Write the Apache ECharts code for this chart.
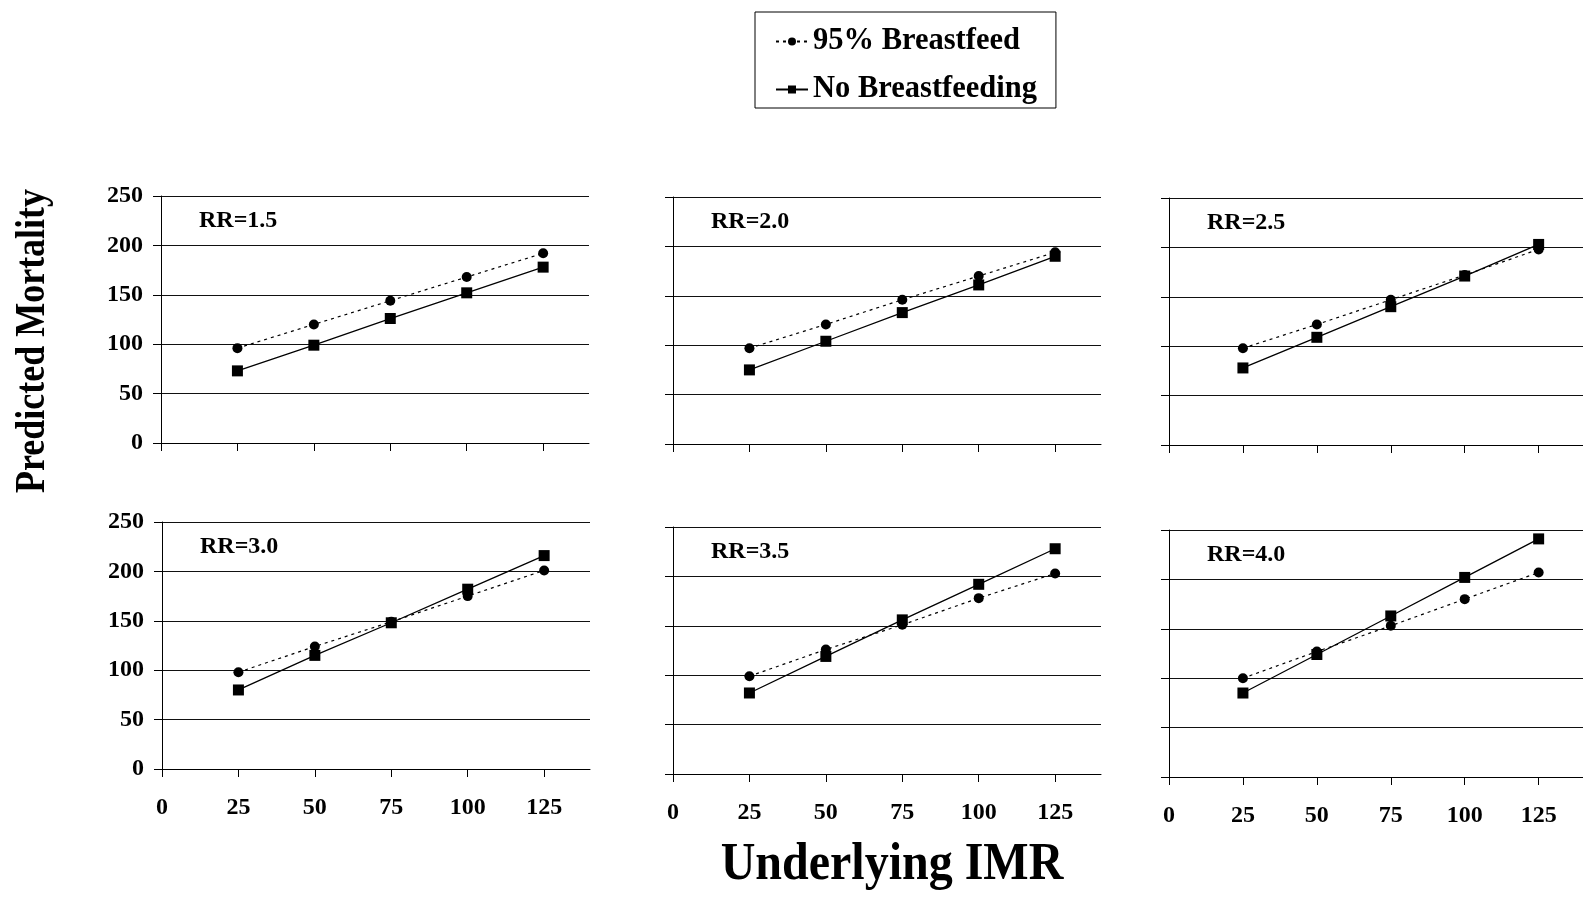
<!DOCTYPE html>
<html>
<head>
<meta charset="utf-8">
<script src="https://cdn.jsdelivr.net/npm/echarts@6/dist/echarts.min.js"></script>
<style>html,body{margin:0;padding:0;background:#fff}#c{width:1583px;height:912px}</style>
</head>
<body>
<div id="c"></div>
<script>
// ---- data ----
const imr = [25, 50, 75, 100, 125];
const xTickValues = [0, 25, 50, 75, 100, 125];
const yTickValues = [0, 50, 100, 150, 200, 250];
const panelTitles = ['RR=1.5', 'RR=2.0', 'RR=2.5', 'RR=3.0', 'RR=3.5', 'RR=4.0'];
const seriesNames = ['95% Breastfeed', 'No Breastfeeding'];
const breastfeed_rr15 = [96, 120, 144, 168, 192];
const noBreastfeed_rr15 = [73, 99, 126, 152, 178];
const breastfeed_rr20 = [97, 121, 146, 170, 194];
const noBreastfeed_rr20 = [75, 104, 133, 161, 190];
const breastfeed_rr25 = [98, 122, 147, 172, 198];
const noBreastfeed_rr25 = [78, 109, 140, 171, 203];
const breastfeed_rr30 = [98, 124, 149, 175, 201];
const noBreastfeed_rr30 = [80, 115, 148, 182, 216];
const breastfeed_rr35 = [99, 126, 151, 178, 203];
const noBreastfeed_rr35 = [82, 119, 156, 192, 228];
const breastfeed_rr40 = [100, 127, 153, 180, 207];
const noBreastfeed_rr40 = [85, 124, 163, 202, 241];
const xTitle = 'Underlying IMR';
const yTitle = 'Predicted Mortality';

const panelData = [
  [breastfeed_rr15, noBreastfeed_rr15],
  [breastfeed_rr20, noBreastfeed_rr20],
  [breastfeed_rr25, noBreastfeed_rr25],
  [breastfeed_rr30, noBreastfeed_rr30],
  [breastfeed_rr35, noBreastfeed_rr35],
  [breastfeed_rr40, noBreastfeed_rr40]
];

// ---- layout ----
const FONT = '"Liberation Serif", "Times New Roman", serif';
const layout = [
  {left: 161, top: 196, yLabels: true,  xLabels: false},
  {left: 673, top: 197, yLabels: false, xLabels: false},
  {left: 1169, top: 198, yLabels: false, xLabels: false},
  {left: 162, top: 522, yLabels: true,  xLabels: true},
  {left: 673, top: 527, yLabels: false, xLabels: true},
  {left: 1169, top: 530, yLabels: false, xLabels: true}
];
const GW = 428, GH = 247;

const grid = [], xAxis = [], yAxis = [], series = [], graphic = [];
layout.forEach((p, i) => {
  grid.push({left: p.left, top: p.top, width: GW, height: GH, containLabel: false});
  xAxis.push({
    type: 'value', gridIndex: i, min: 0, max: 140,
    axisLine: {show: true, onZero: false, lineStyle: {color: '#000', width: 1}},
    axisTick: {show: true, length: 8, inside: false, customValues: xTickValues, lineStyle: {color: '#000'}},
    axisLabel: {show: p.xLabels, customValues: xTickValues, margin: 27,
      color: '#000', fontFamily: FONT, fontWeight: 'bold', fontSize: 24},
    splitLine: {show: false}
  });
  yAxis.push({
    type: 'value', gridIndex: i, min: 0, max: 250, interval: 50,
    axisLine: {show: true, onZero: false, lineStyle: {color: '#000', width: 1}},
    axisTick: {show: true, length: 8, inside: false, lineStyle: {color: '#000'}},
    axisLabel: {show: p.yLabels, margin: 18, color: '#000', fontFamily: FONT, fontWeight: 'bold', fontSize: 24},
    splitLine: {show: true, lineStyle: {color: '#111', width: 1}}
  });
  const [bf, nbf] = panelData[i];
  series.push({
    name: seriesNames[0], type: 'line', xAxisIndex: i, yAxisIndex: i,
    data: imr.map((x, k) => [x, bf[k]]),
    symbol: 'circle', symbolSize: 10,
    itemStyle: {color: '#000'},
    lineStyle: {color: '#000', width: 1.2, type: [3, 4]},
    silent: true, animation: false, z: 3
  });
  series.push({
    name: seriesNames[1], type: 'line', xAxisIndex: i, yAxisIndex: i,
    data: imr.map((x, k) => [x, nbf[k]]),
    symbol: 'rect', symbolSize: 11,
    itemStyle: {color: '#000'},
    lineStyle: {color: '#000', width: 1.3, type: 'solid'},
    silent: true, animation: false, z: 2
  });
  graphic.push({
    type: 'text', left: p.left + 38, top: p.top + 13,
    style: {text: panelTitles[i], fill: '#000', font: 'bold 24px ' + FONT}
  });
});

graphic.push({
  type: 'text', x: 892, y: 866, scaleY: 1.08,
  style: {text: xTitle, fill: '#000', font: 'bold 48px ' + FONT, textAlign: 'center', textVerticalAlign: 'middle'}
});
graphic.push({
  type: 'text', x: 33, y: 341, rotation: Math.PI / 2, scaleY: 1.2,
  style: {text: yTitle, fill: '#000', font: 'bold 36px ' + FONT, textAlign: 'center', textVerticalAlign: 'middle'}
});

const chart = echarts.init(document.getElementById('c'), null, {renderer: 'canvas'});
chart.setOption({
  animation: false,
  backgroundColor: '#fff',
  grid, xAxis, yAxis, series, graphic,
  legend: {
    data: seriesNames,
    orient: 'vertical', left: 755, top: 12,
    padding: [14, 19, 3, 20],
    itemGap: 17, itemWidth: 32, itemHeight: 10,
    borderColor: '#000', borderWidth: 1,
    textStyle: {color: '#000', fontFamily: FONT, fontWeight: 'bold', fontSize: 30.5},
    selectedMode: false
  }
});
</script>
</body>
</html>
